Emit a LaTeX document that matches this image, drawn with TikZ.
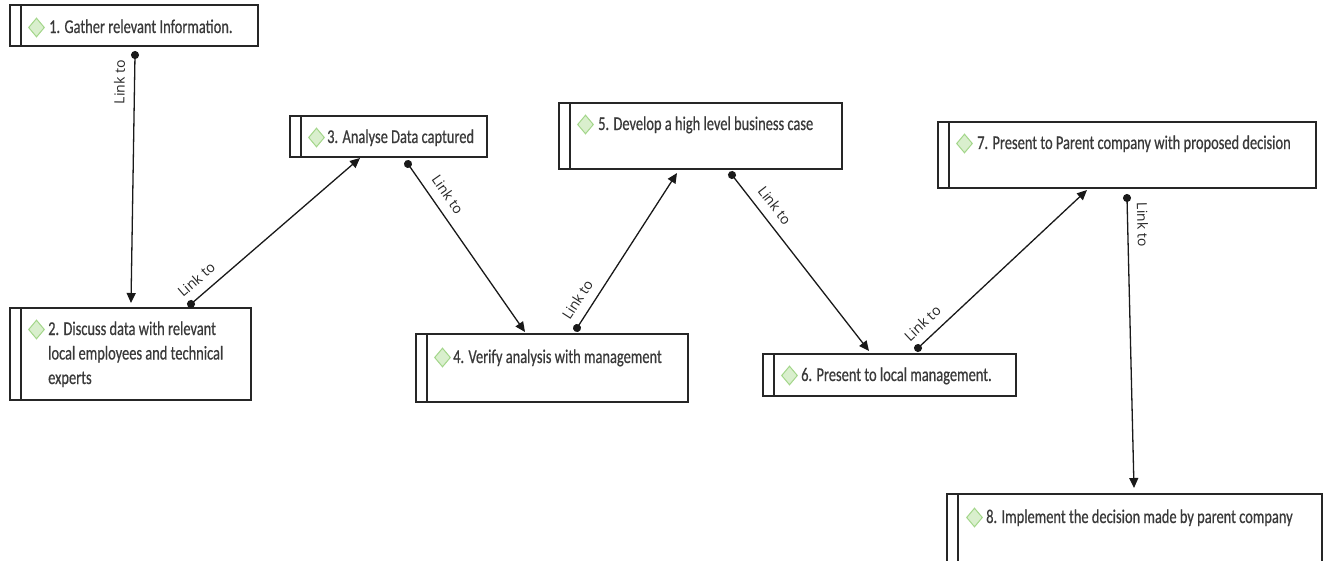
\documentclass[tikz,border=0pt]{standalone}
\usepackage{fontspec}
\newfontfamily\boxfont[FakeStretch=0.74,FakeBold=0.6]{Carlito}
\newfontfamily\linkfont{Open Sans}
\usetikzlibrary{arrows.meta,shapes.geometric,calc}
\definecolor{dfill}{HTML}{D9EFCD}
\definecolor{ddraw}{HTML}{A3D68A}
\definecolor{txt}{HTML}{3A3A3A}
\begin{document}
\begin{tikzpicture}[x=1pt,y=-1pt,
  stepbox/.style={draw=black!85, line width=1.4pt, rectangle, inner sep=0pt, outer sep=0pt, anchor=north west},
  innerline/.style={draw=black!85, line width=1.2pt},
  gem/.style={diamond, draw=ddraw, fill=dfill, line width=1pt, minimum width=16pt, minimum height=19pt, inner sep=0pt},
  steptext/.style={anchor=base west, inner sep=0pt, text=txt, font=\boxfont\fontsize{19.5}{24.5}\selectfont},
  conn/.style={line width=1.3pt, draw=black!90, {Circle[length=8pt,width=8pt]}-{Triangle[length=10pt,width=9pt]}, shorten <=-4pt},
  lbl/.style={sloped, anchor=south, inner xsep=0pt, inner ysep=9pt, font=\linkfont\fontsize{14}{16}\selectfont, text=black!85}
]
\useasboundingbox (0,0) rectangle (1323,560);

% boxes
\node[stepbox, minimum width=248pt, minimum height=41pt] (b1) at (10,5) {};
\node[stepbox, minimum width=241pt, minimum height=92pt] (b2) at (10,308) {};
\node[stepbox, minimum width=197pt, minimum height=41pt] (b3) at (290,116) {};
\node[stepbox, minimum width=272pt, minimum height=68pt] (b4) at (416,334) {};
\node[stepbox, minimum width=283pt, minimum height=66pt] (b5) at (559,103) {};
\node[stepbox, minimum width=253pt, minimum height=42pt] (b6) at (763,354) {};
\node[stepbox, minimum width=378pt, minimum height=66pt] (b7) at (938,122) {};
\node[stepbox, minimum width=375pt, minimum height=68pt] (b8) at (947,494) {};

\foreach \b in {b1,b2,b3,b4,b5,b6,b7,b8}
  \draw[innerline] ([xshift=11pt]\b.north west) -- ([xshift=11pt]\b.south west);

% diamonds
\node[gem] (d1) at ($(b1.north west)+(26.5,22.5)$) {};
\node[gem] (d2) at ($(b2.north west)+(26.5,21.5)$) {};
\node[gem] (d3) at ($(b3.north west)+(26.5,21.5)$) {};
\node[gem] (d4) at ($(b4.north west)+(26.5,23.5)$) {};
\node[gem] (d5) at ($(b5.north west)+(26.5,21.5)$) {};
\node[gem] (d6) at ($(b6.north west)+(26.5,21.5)$) {};
\node[gem] (d7) at ($(b7.north west)+(26.5,21.5)$) {};
\node[gem] (d8) at ($(b8.north west)+(27.5,23.5)$) {};

% texts
\node[steptext] (t1) at ($(b1.north west)+(39,28)$) {1. Gather relevant Information.};
\node[steptext] (t2) at ($(b2.north west)+(38,27)$) {\vtop{\hbox{2. Discuss data with relevant}\hbox{local employees and technical}\hbox{experts}}};
\node[steptext] (t3) at ($(b3.north west)+(37,27)$) {3. Analyse Data captured};
\node[steptext] (t4) at ($(b4.north west)+(37,29)$) {4. Verify analysis with management};
\node[steptext] (t5) at ($(b5.north west)+(39,27)$) {5. Develop a high level business case};
\node[steptext] (t6) at ($(b6.north west)+(38,27)$) {6. Present to local management.};
\node[steptext] (t7) at ($(b7.north west)+(39,27)$) {7. Present to Parent company with proposed decision};
\node[steptext] (t8) at ($(b8.north west)+(39,29)$) {8. Implement the decision made by parent company};

% connectors
\draw[conn] ($(b1.south west)+(125,9)$) -- node[lbl, pos=0.11] {Link to} ($(b2.north west)+(121,-5)$);
\draw[conn] ($(b2.north west)+(181,-4)$) -- node[lbl, pos=0.09] {Link to} ($(b3.south west)+(70,1)$);
\draw[conn] ($(b3.south west)+(118,7)$) -- node[lbl, pos=0.235] {Link to} ($(b4.north west)+(109,-2)$);
\draw[conn] ($(b4.north west)+(161,-6)$) -- node[lbl, pos=0.13] {Link to} ($(b5.south west)+(118,4)$);
\draw[conn] ($(b5.south west)+(173,6)$) -- node[lbl, pos=0.225] {Link to} ($(b6.north west)+(106,-3)$);
\draw[conn] ($(b6.north west)+(155,-6)$) -- node[lbl, pos=0.087] {Link to} ($(b7.south west)+(149,2)$);
\draw[conn] ($(b7.south west)+(189,10)$) -- node[lbl, pos=0.093] {Link to} ($(b8.north west)+(187,-6)$);
\end{tikzpicture}
\end{document}
